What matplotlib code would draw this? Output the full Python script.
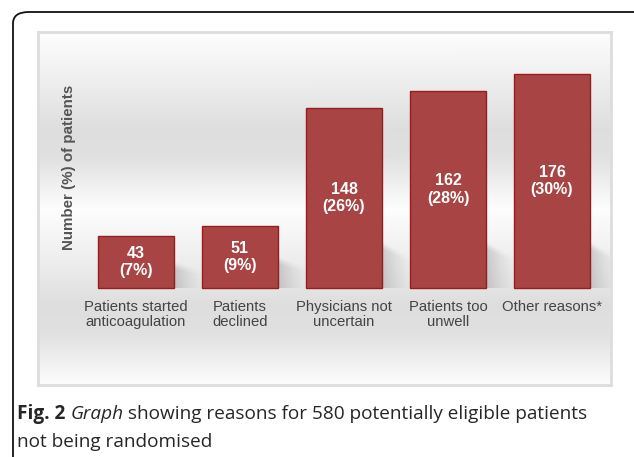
import numpy as np
import matplotlib
matplotlib.use("Agg")
import matplotlib.pyplot as plt
from matplotlib.patches import FancyBboxPatch

categories = ["Patients started\nanticoagulation", "Patients\ndeclined",
              "Physicians not\nuncertain", "Patients too\nunwell", "Other reasons*"]
counts = [43, 51, 148, 162, 176]
percents = [7, 9, 26, 28, 30]

W, H = 634, 457
fig = plt.figure(figsize=(W / 100, H / 100), dpi=100)

def fx(px):
    return px / W

def fy(py):
    return 1 - py / H

# outer rounded frame
frame = FancyBboxPatch((fx(13), fy(470)), fx(660) - fx(13), fy(12) - fy(470),
                       boxstyle="round,pad=0,rounding_size=0.025",
                       transform=fig.transFigure, fill=False,
                       edgecolor="#111111", linewidth=1.3, clip_on=False)
fig.patches.append(frame)

# chart panel
pl, pt, pr, pb = 38, 32, 611, 385
ax = fig.add_axes([fx(pl), fy(pb), fx(pr) - fx(pl), fy(pt) - fy(pb)])
xlim = (-0.942, -0.942 + (pr - pl) / 104.0)
ylim = (-79.8, 210.5)
ax.set_xlim(*xlim)
ax.set_ylim(*ylim)

# gradient background: white top -> gray around bar bases -> white bottom
n = 353
t = np.linspace(0, 1, n)  # 0 = top, 1 = bottom
g = np.interp(t, [0, 0.06, 0.3, 0.55, 0.7, 0.8, 0.9, 1.0],
              [0.995, 0.98, 0.93, 0.87, 0.88, 0.915, 0.955, 0.99])
img = np.dstack([g, g, g])[:, None, :].repeat(2, axis=1).reshape(n, 2, 3)
ax.imshow(img, extent=[xlim[0], xlim[1], ylim[0], ylim[1]], aspect="auto",
          origin="upper", zorder=0, interpolation="bilinear")

# soft slanted shadows behind bars
x = np.arange(len(counts))
hw = 0.365
for xi, c in zip(x, counts):
    hs = min(38.0, 0.5 * c)
    x0, x1 = xi - hw, xi + hw + 0.32
    gx = np.linspace(x0, x1, 120)
    gy = np.linspace(0, hs + 6, 80)
    X, Y = np.meshgrid(gx, gy)
    u = np.clip((X - (xi + hw)) / 0.3, 0, 1)
    top = hs * (1 - 0.35 * u)
    vt = np.clip((top - Y) / 6.0, 0, 1)          # soft top edge
    fade = (1 - u) ** 1.3
    low = np.clip(1 - 0.5 * u * (1 - Y / (hs + 1e-9)), 0, 1)
    a = 0.16 * vt * fade * low
    rgba = np.zeros(X.shape + (4,))
    rgba[..., 3] = a
    ax.imshow(rgba, extent=[x0, x1, 0, hs + 6], origin="lower", aspect="auto",
              zorder=1, interpolation="bilinear")
ax.set_xlim(*xlim)
ax.set_ylim(*ylim)

bars = ax.bar(x, counts, width=2 * hw, color="#a84444", edgecolor="#951e1e",
              linewidth=1.0, zorder=2)

for xi, c, p in zip(x, counts, percents):
    ax.text(xi, c / 2, f"{c}\n({p}%)", ha="center", va="center",
            color="white", fontsize=11.5, fontweight="bold", family="Liberation Sans",
            linespacing=1.2, zorder=3)

for xi, cat in zip(x, categories):
    ax.text(xi, -9.5, cat, ha="center", va="top", color="#444444", fontsize=10.7,
            family="Liberation Sans", linespacing=1.1, zorder=3)

ax.text(-0.64, 99, "Number (%) of patients", rotation=90, ha="center", va="center",
        color="#555555", fontsize=10.9, fontweight="bold", family="Liberation Sans")

ax.set_xticks([])
ax.set_yticks([])
for s in ax.spines.values():
    s.set_edgecolor("#dddddd")
    s.set_linewidth(2)

# caption
fig.canvas.draw()
r = fig.canvas.get_renderer()
cx = fx(17)
y1 = fy(419)
parts = [("Fig. 2 ", dict(fontweight="bold")),
         ("Graph", dict(style="italic")),
         (" showing reasons for 580 potentially eligible patients", {})]
for s, kw in parts:
    tt = fig.text(cx, y1, s, fontsize=13.7, family="Open Sans", color="#262626",
                  ha="left", va="baseline", **kw)
    bb = tt.get_window_extent(renderer=r)
    cx += bb.width / W
fig.text(fx(17), fy(447), "not being randomised", fontsize=13.7, family="Open Sans",
         color="#262626", ha="left", va="baseline")

fig.savefig("out.png", dpi=100)
